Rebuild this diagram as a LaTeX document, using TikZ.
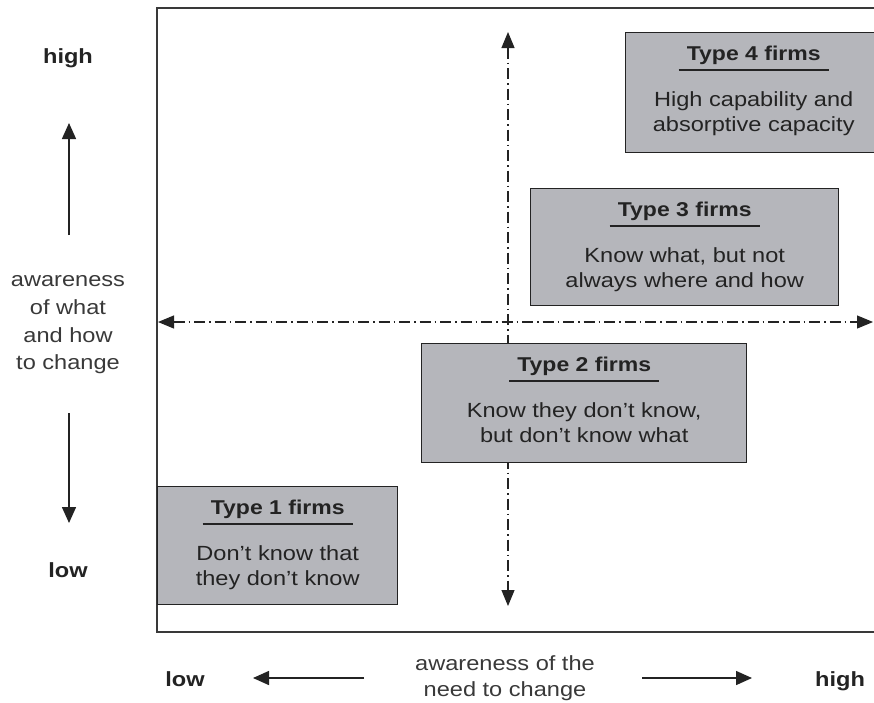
\documentclass[tikz,border=0pt]{standalone}
\usepackage{fontspec}
\setmainfont[FakeStretch=1.15]{Liberation Sans}
\usetikzlibrary{arrows.meta,calc}
\definecolor{boxgray}{RGB}{181,182,187}
\definecolor{ink}{RGB}{35,35,35}
\begin{document}
\begin{tikzpicture}[x=1pt,y=-1pt,
  firmbox/.style={draw=ink, line width=1.4pt, fill=boxgray, inner sep=0pt, anchor=north west},
  head/.style={font=\bfseries\fontsize{20}{24}\selectfont, text=ink, anchor=base, inner sep=0pt},
  body/.style={font=\fontsize{20.5}{24}\selectfont, text=ink, anchor=base, inner sep=0pt},
  lbl/.style={font=\fontsize{20.5}{24}\selectfont, text=ink!90, anchor=base, inner sep=0pt},
  boldlbl/.style={font=\bfseries\fontsize{20.5}{24}\selectfont, text=ink, anchor=base, inner sep=0pt},
  ulinestyle/.style={ink, line width=1.2pt},
  axisline/.style={ink, line width=1.1pt, dash pattern=on 11pt off 4pt on 1.5pt off 4pt, {Triangle[width=13pt,length=16pt]}-{Triangle[width=13pt,length=16pt]}},
  sarrow/.style={ink, line width=1.5pt, -{Triangle[width=14pt,length=16pt]}}
]
\useasboundingbox (0,0) rectangle (874,702);
\clip (0,0) rectangle (874,702);
\fill[white] (0,0) rectangle (874,702);

% frame
\draw[ink!90, line width=1.7pt] (890,8) -| (157,632) -- (890,632);

% dash-dot axes
\coordinate (vt) at (508,32);
\coordinate (vb) at (508,606);
\coordinate (hl) at (158,322);
\coordinate (hr) at (873,322);
\draw[axisline] (vt) -- (vb);
\draw[axisline] (hl) -- (hr);

% boxes
\node[firmbox, minimum width=240pt, minimum height=118pt] (b1) at (157,486) {};
\node[firmbox, minimum width=325pt, minimum height=119pt] (b2) at (421,343) {};
\node[firmbox, minimum width=308pt, minimum height=117pt] (b3) at (530,188) {};
\node[firmbox, minimum width=256pt, minimum height=120pt] (b4) at (625,32) {};

% box texts
\node[head] (h1) at ($(b1.north)+(0,28)$) {Type 1 firms};
\draw[ulinestyle] ($(b1.north)+(-75,38)$) -- ($(b1.north)+(75,38)$);
\node[body] (t1a) at ($(b1.north)+(0,74)$) {Don't know that};
\node[body] (t1b) at ($(b1.north)+(0,99)$) {they don't know};

\node[head] (h2) at ($(b2.north)+(0,28)$) {Type 2 firms};
\draw[ulinestyle] ($(b2.north)+(-75,38)$) -- ($(b2.north)+(75,38)$);
\node[body] (t2a) at ($(b2.north)+(0,74)$) {Know they don't know,};
\node[body] (t2b) at ($(b2.north)+(0,99)$) {but don't know what};

\node[head] (h3) at ($(b3.north)+(0,28)$) {Type 3 firms};
\draw[ulinestyle] ($(b3.north)+(-75,38)$) -- ($(b3.north)+(75,38)$);
\node[body] (t3a) at ($(b3.north)+(0,74)$) {Know what, but not};
\node[body] (t3b) at ($(b3.north)+(0,99)$) {always where and how};

\node[head] (h4) at ($(b4.north)+(0,28)$) {Type 4 firms};
\draw[ulinestyle] ($(b4.north)+(-75,38)$) -- ($(b4.north)+(75,38)$);
\node[body] (t4a) at ($(b4.north)+(0,74)$) {High capability and};
\node[body] (t4b) at ($(b4.north)+(0,99)$) {absorptive capacity};

% vertical axis labels
\node[boldlbl] (yhigh) at (68,63) {high};
\node[lbl] (ya) at (68,286) {awareness};
\node[lbl] (yb) at (68,314) {of what};
\node[lbl] (yc) at (68,342) {and how};
\node[lbl] (yd) at (68,369) {to change};
\node[boldlbl] (ylow) at (68,577) {low};
\coordinate (ua0) at (69,235);
\coordinate (ua1) at (69,123);
\coordinate (da0) at (69,413);
\coordinate (da1) at (69,523);
\draw[sarrow] (ua0) -- (ua1);
\draw[sarrow] (da0) -- (da1);

% horizontal axis labels
\node[boldlbl] (xlow) at (185,686) {low};
\node[lbl] (xa) at (505,670) {awareness of the};
\node[lbl] (xb) at (505,696) {need to change};
\node[boldlbl] (xhigh) at (840,686) {high};
\coordinate (la0) at (364,678);
\coordinate (la1) at (253,678);
\coordinate (ra0) at (642,678);
\coordinate (ra1) at (752,678);
\draw[sarrow] (la0) -- (la1);
\draw[sarrow] (ra0) -- (ra1);
\end{tikzpicture}
\end{document}
